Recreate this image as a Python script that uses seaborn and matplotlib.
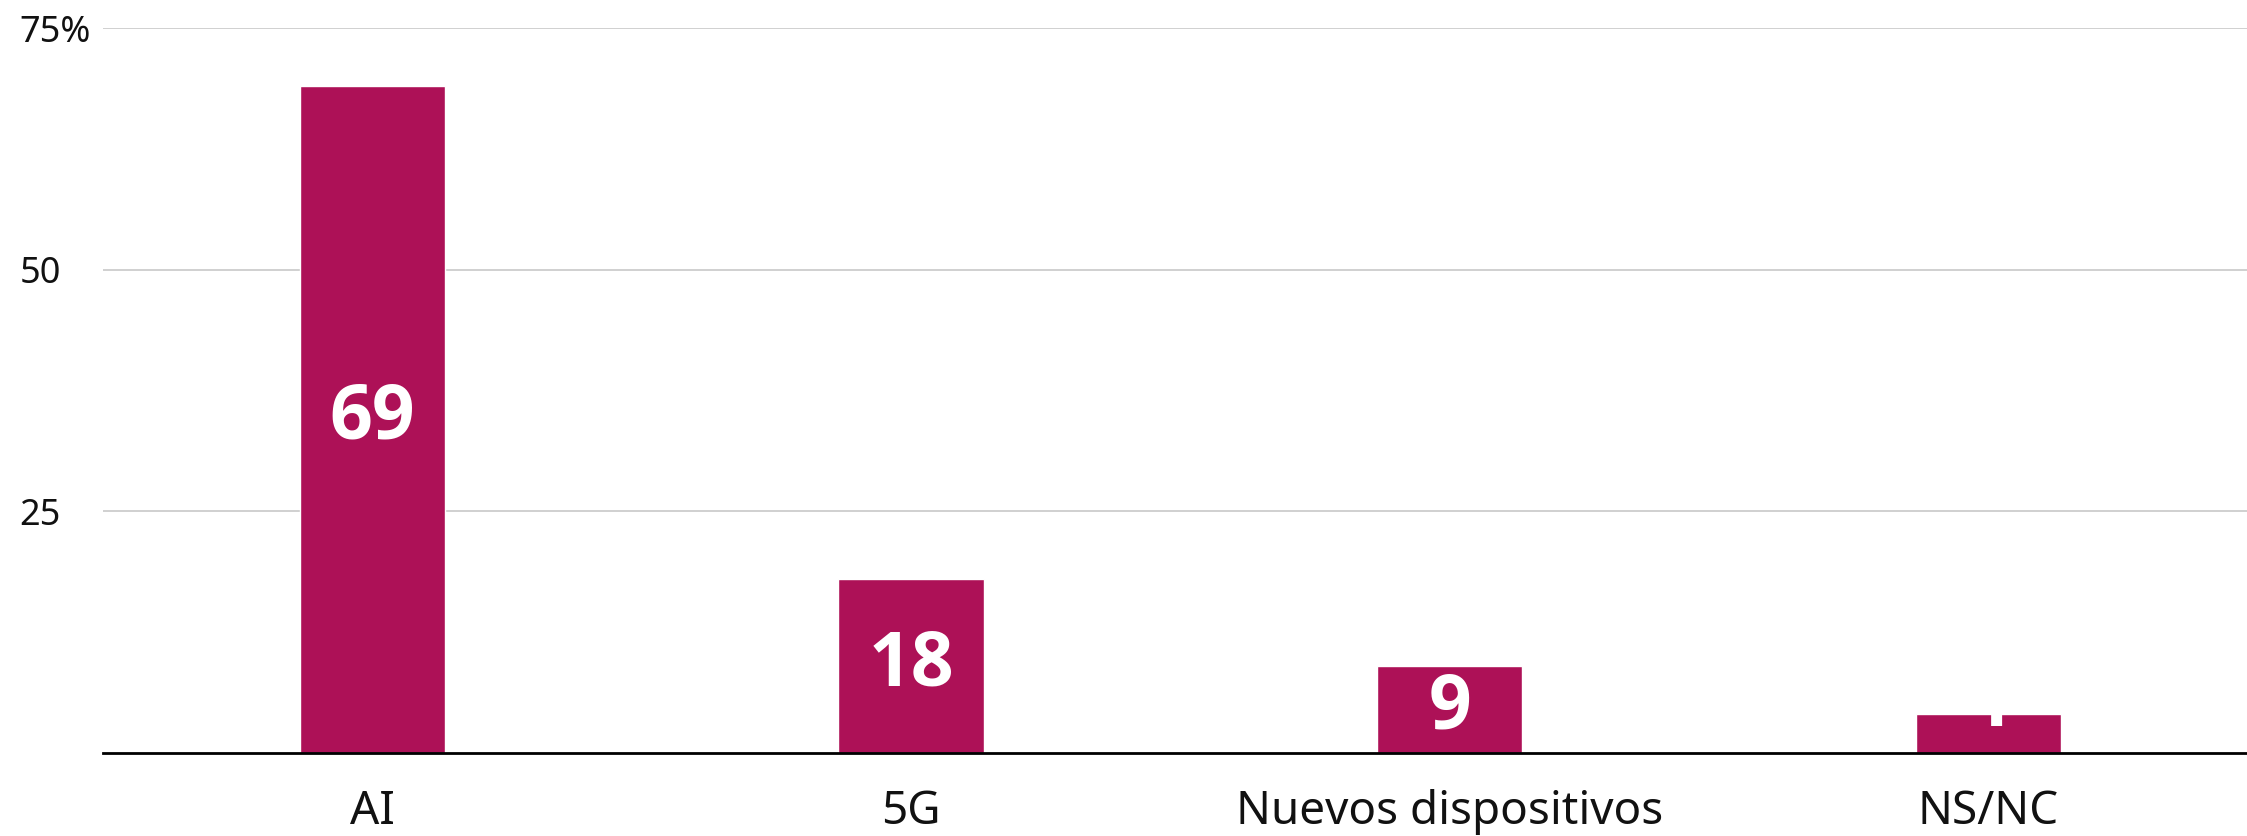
import pandas as pd
import matplotlib.pyplot as plt
import seaborn as sns

# ── Data ─────────────────────────────────────────────
categories = ['AI', '5G', 'Nuevos dispositivos', 'NS/NC']
values = [69, 18, 9, 4]
yticks = [25, 50, 75]
ytick_labels = ['25', '50', '75%']

df = pd.DataFrame({'cat': categories, 'val': values})

sns.set_theme(style='white')
plt.rcParams['font.family'] = ['Noto Sans', 'DejaVu Sans']

fig = plt.figure(figsize=(22.47, 8.36), dpi=100)
ax = fig.add_axes([0.0458, 0.0993, 0.9542, 0.8672])

sns.barplot(data=df, x='cat', y='val', color='#AD1157', saturation=1,
            width=0.27, ax=ax, zorder=3)

ax.set_xlim(-0.5, 3.48)
ax.set_ylim(0, 75)
ax.set_yticks(yticks)
ax.set_yticklabels(ytick_labels, fontsize=26, color='#111111', ha='left')
ax.tick_params(axis='y', length=0, pad=60)
ax.tick_params(axis='x', length=0, pad=26, labelsize=33, labelcolor='#111111')
ax.set_xlabel('')
ax.set_ylabel('')

ax.grid(axis='y', color='#c8c8c8', linewidth=1.2, zorder=0)
ax.grid(axis='x', visible=False)
for s in ['top', 'right', 'left']:
    ax.spines[s].set_visible(False)
ax.spines['bottom'].set_color('black')
ax.spines['bottom'].set_linewidth(2.0)
ax.spines['bottom'].set_zorder(4)

# value labels inside bars (white); too-short bars push the label up
for i, v in enumerate(values):
    if v >= 8:
        ax.text(i, v / 2, str(v), ha='center', va='center', color='white',
                fontsize=54, fontweight='bold', family=['Open Sans', 'DejaVu Sans'],
                zorder=5)
    else:
        ax.text(i, v - 1.2, str(v), ha='center', va='baseline', color='white',
                fontsize=54, fontweight='bold', family=['Open Sans', 'DejaVu Sans'],
                zorder=5)

fig.savefig('out.png', dpi=100)
